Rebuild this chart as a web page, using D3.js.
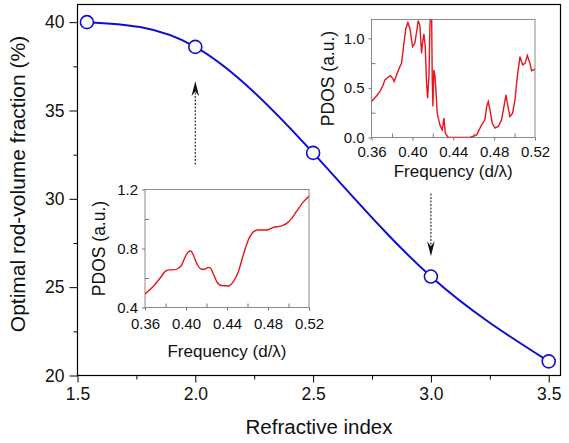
<!DOCTYPE html>
<html><head><meta charset="utf-8">
<script src="https://cdn.jsdelivr.net/npm/d3@7"></script>
<style>
html,body{margin:0;padding:0;background:#fff;}
svg{display:block;font-family:"Liberation Sans",Arial,Helvetica,sans-serif;}
</style></head>
<body><svg id="c" width="569" height="443"></svg>
<script>
// ---- main series ----
const refractiveIndex = [1.54, 2.0, 2.5, 3.0, 3.5];
const rodFraction = [40.0, 38.6, 32.6, 25.6, 20.8];
const mainXTicks = [1.5, 2.0, 2.5, 3.0, 3.5];
const mainYTicks = [20, 25, 30, 35, 40];
// arrows (x, from y, to y) in data units
const arrowX = [2.0, 3.0];
const arrowFrom = [31.95, 30.3];
const arrowTo = [36.65, 26.75];

// ---- inset A (n = 2.0, lower-left) ----
const freqA = [0.360,0.368,0.3746,0.3795,0.3828,0.3876,0.3925,0.3958,0.399,0.4023,0.4046,0.4072,0.4104,0.4153,0.4185,0.4218,0.424,0.4267,0.430,0.4348,0.4413,0.4462,0.4511,0.4559,0.4608,0.4657,0.4706,0.4787,0.4852,0.4933,0.4982,0.5031,0.508,0.5145,0.520];
const pdosA = [0.492,0.542,0.598,0.643,0.655,0.655,0.666,0.688,0.740,0.778,0.783,0.756,0.700,0.659,0.659,0.672,0.666,0.627,0.576,0.549,0.546,0.576,0.643,0.756,0.857,0.913,0.925,0.925,0.943,0.954,0.970,1.004,1.053,1.116,1.154];
// ---- inset B (n = 3.0, upper-right) ----
const freqB = [0.360,0.3649,0.3682,0.3714,0.3731,0.3763,0.3786,0.3806,0.3822,0.3845,0.3871,0.3894,0.3917,0.3936,0.3956,0.3976,0.4002,0.4024,0.4044,0.4057,0.4073,0.409,0.4099,0.4113,0.4126,0.4139,0.4149,0.4162,0.4171,0.4178,0.4188,0.4194,0.4201,0.421,0.422,0.423,0.4243,0.4269,0.4292,0.4309,0.4322,0.4351,0.4563,0.4629,0.4678,0.471,0.4727,0.4743,0.4759,0.4782,0.4808,0.4841,0.4873,0.4896,0.4916,0.4929,0.4955,0.4981,0.5004,0.5027,0.5053,0.5079,0.5102,0.5125,0.5151,0.5167,0.520];
const pdosB = [0.362,0.419,0.463,0.530,0.581,0.607,0.624,0.597,0.564,0.631,0.698,0.748,0.950,1.100,1.158,1.100,0.916,0.950,1.084,1.178,1.134,0.849,0.950,1.044,0.916,0.547,0.396,0.614,1.084,1.30,1.30,0.614,0.312,0.681,0.631,0.480,0.245,0.128,0.077,0.195,0.044,0.0,0.0,0.027,0.128,0.178,0.312,0.362,0.279,0.144,0.094,0.111,0.178,0.312,0.430,0.346,0.211,0.245,0.379,0.614,0.815,0.732,0.748,0.826,0.748,0.674,0.688];
const insetXTicks = [0.36, 0.40, 0.44, 0.48, 0.52];
const insetXMinor = [0.38, 0.42, 0.46, 0.50];
const insetAYTicks = [0.4, 0.8, 1.2];
const insetAYMinor = [0.6, 1.0];
const insetBYTicks = [0.0, 0.5, 1.0];
const insetBYMinor = [0.25, 0.75];

const svg = d3.select("#c");
const FONT = '"Liberation Sans",Arial,Helvetica,sans-serif';

// main scales
const M = {l:77.5, r:560.5, t:4.5, b:375.5};
const x = d3.scaleLinear().domain([1.5, 3.55]).range([M.l, M.r]);
const y = d3.scaleLinear().domain([20, 41]).range([M.b, M.t]);

function styleAxis(g, size, color) {
  g.select(".domain").remove();
  g.selectAll("line").attr("stroke", color || "#000").attr("stroke-width", 1);
  g.selectAll("text").attr("font-family", FONT).attr("font-size", size).attr("fill", "#111");
}

// minor ticks
svg.append("g").attr("transform", `translate(0,${M.b})`)
  .call(d3.axisBottom(x).tickValues([1.75,2.25,2.75,3.25]).tickSize(4).tickFormat(""))
  .call(g => styleAxis(g, 17));
svg.append("g").attr("transform", `translate(${M.l},0)`)
  .call(d3.axisLeft(y).tickValues([22.5,27.5,32.5,37.5]).tickSize(4).tickFormat(""))
  .call(g => styleAxis(g, 17));
// major ticks
svg.append("g").attr("transform", `translate(0,${M.b})`)
  .call(d3.axisBottom(x).tickValues(mainXTicks).tickSize(7).tickPadding(5).tickFormat(d3.format(".1f")))
  .call(g => styleAxis(g, 17.5));
svg.append("g").attr("transform", `translate(${M.l},0)`)
  .call(d3.axisLeft(y).tickValues(mainYTicks).tickSize(8).tickPadding(5).tickFormat(d3.format("d")))
  .call(g => styleAxis(g, 17.5));

// frame
svg.append("rect").attr("x", M.l).attr("y", M.t).attr("width", M.r - M.l).attr("height", M.b - M.t)
  .attr("fill", "none").attr("stroke", "#000").attr("stroke-width", 1.2);

// titles
svg.append("text").attr("x", (M.l + M.r) / 2 + 0).attr("y", 434)
  .attr("text-anchor", "middle").attr("font-family", FONT).attr("font-size", 20.5).attr("fill", "#111")
  .text("Refractive index");
svg.append("text").attr("transform", `translate(25,184) rotate(-90)`)
  .attr("text-anchor", "middle").attr("font-family", FONT).attr("font-size", 21).attr("fill", "#111")
  .text("Optimal rod-volume fraction (%)");

// main curve
const mainPts = refractiveIndex.map((v, i) => [v, rodFraction[i]]);
svg.append("path").datum(mainPts)
  .attr("d", d3.line().x(d => x(d[0])).y(d => y(d[1])).curve(d3.curveNatural))
  .attr("fill", "none").attr("stroke", "#0f0fd2").attr("stroke-width", 2);
svg.selectAll("circle.m").data(mainPts).join("circle").attr("class", "m")
  .attr("cx", d => x(d[0])).attr("cy", d => y(d[1])).attr("r", 6.5)
  .attr("fill", "#fff").attr("stroke", "#0f0fd2").attr("stroke-width", 1.6);

// arrows
arrowX.forEach((ax, i) => {
  const px = x(ax), y0 = y(arrowFrom[i]), y1 = y(arrowTo[i]);
  const dir = y1 < y0 ? -1 : 1; // -1 = up
  const headLen = 15, notch = 10, hw = 3.8;
  svg.append("line").attr("x1", px).attr("x2", px).attr("y1", y0).attr("y2", y1 - dir * notch)
    .attr("stroke", "#333").attr("stroke-width", 1.2).attr("stroke-dasharray", "2,1.5");
  const p = d3.path();
  p.moveTo(px, y1);
  p.lineTo(px - hw, y1 - dir * headLen);
  p.lineTo(px, y1 - dir * notch);
  p.lineTo(px + hw, y1 - dir * headLen);
  p.closePath();
  svg.append("path").attr("d", p.toString()).attr("fill", "#111");
});

// ---- inset builder ----
function inset(cfg) {
  const ix = d3.scaleLinear().domain([0.36, 0.52]).range([cfg.l, cfg.r]);
  const iy = d3.scaleLinear().domain(cfg.yd).range([cfg.b, cfg.t]);
  const g = svg.append("g");
  g.append("rect").attr("x", cfg.l).attr("y", cfg.t).attr("width", cfg.r - cfg.l).attr("height", cfg.b - cfg.t)
    .attr("fill", "#fff").attr("stroke", "#8a8a8a").attr("stroke-width", 1);
  const clipId = "clip" + cfg.id;
  g.append("clipPath").attr("id", clipId).append("rect")
    .attr("x", cfg.l).attr("y", cfg.t).attr("width", cfg.r - cfg.l).attr("height", cfg.b - cfg.t);
  const pts = cfg.xs.map((v, i) => [v, cfg.ys[i]]);
  g.append("path").datum(pts).attr("clip-path", `url(#${clipId})`)
    .attr("d", d3.line().x(d => ix(d[0])).y(d => iy(d[1])).curve(cfg.curve))
    .attr("fill", "none").attr("stroke", "#e8131b").attr("stroke-width", 1.4);
  // axes
  g.append("g").attr("transform", `translate(0,${cfg.b})`)
    .call(d3.axisBottom(ix).tickValues(insetXMinor).tickSizeInner(-4).tickSizeOuter(0).tickFormat(""))
    .call(a => styleAxis(a, 15, "#777"));
  g.append("g").attr("transform", `translate(0,${cfg.b})`)
    .call(d3.axisBottom(ix).tickValues(insetXTicks).tickSize(3).tickPadding(cfg.xpad).tickFormat(d3.format(".2f")))
    .call(a => styleAxis(a, 15, "#777"));
  g.append("g").attr("transform", `translate(${cfg.l},0)`)
    .call(d3.axisLeft(iy).tickValues(cfg.yminor).tickSizeInner(-4).tickSizeOuter(0).tickFormat(""))
    .call(a => styleAxis(a, 15, "#777"));
  g.append("g").attr("transform", `translate(${cfg.l},0)`)
    .call(d3.axisLeft(iy).tickValues(cfg.yticks).tickSize(3).tickPadding(4).tickFormat(d3.format(".1f")))
    .call(a => styleAxis(a, 15, "#777"));
  g.append("text").attr("x", (cfg.l + cfg.r) / 2).attr("y", cfg.xtitleY)
    .attr("text-anchor", "middle").attr("font-family", FONT).attr("font-size", 17).attr("fill", "#111")
    .text("Frequency (d/\u03bb)");
  g.append("text").attr("transform", `translate(${cfg.ytitleX},${(cfg.t + cfg.b) / 2}) rotate(-90)`)
    .attr("text-anchor", "middle").attr("font-family", FONT).attr("font-size", 17.5).attr("fill", "#111")
    .text("PDOS (a.u.)");
}

inset({id: "A", l: 145, r: 309, t: 189.5, b: 307.5, yd: [0.4, 1.2], xs: freqA, ys: pdosA,
  yticks: insetAYTicks, yminor: insetAYMinor, curve: d3.curveMonotoneX, xpad: 8, xtitleY: 356.5, ytitleX: 105});
inset({id: "B", l: 371.5, r: 535, t: 19.5, b: 137.5, yd: [0, 1.19], xs: freqB, ys: pdosB,
  yticks: insetBYTicks, yminor: insetBYMinor, curve: d3.curveLinear, xpad: 6, xtitleY: 176.5, ytitleX: 334});
</script></body></html>
